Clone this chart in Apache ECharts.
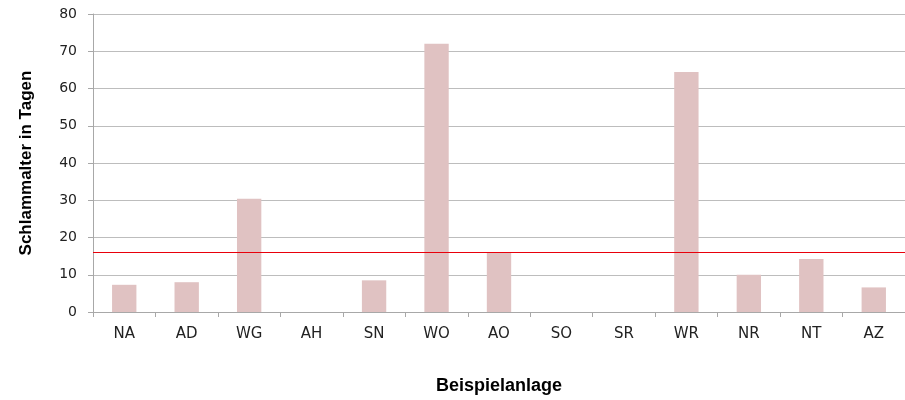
<!DOCTYPE html>
<html>
<head>
<meta charset="utf-8">
<script src="https://cdn.jsdelivr.net/npm/echarts@6/dist/echarts.min.js"></script>
<style>
  html, body { margin: 0; padding: 0; background: #fff; }
  #chart { width: 905px; height: 400px; }
</style>
</head>
<body>
<div id="chart"></div>
<script>
// Sludge age per example plant, with the 16-day reference level
const plants = ['NA', 'AD', 'WG', 'AH', 'SN', 'WO', 'AO', 'SO', 'SR', 'WR', 'NR', 'NT', 'AZ'];
const sludgeAge = [7.3, 8.0, 30.4, null, 8.5, 72.0, 16.1, null, null, 64.4, 10.0, 14.2, 6.6];
const referenceAge = 16;
const yTicks = { min: 0, max: 80, interval: 10 };

const chart = echarts.init(document.getElementById('chart'), null, { renderer: 'canvas' });

chart.setOption({
  animation: false,
  backgroundColor: '#ffffff',
  grid: { left: 93, right: 0, top: 14, bottom: 83, containLabel: false },
  xAxis: {
    type: 'category',
    data: plants,
    name: 'Beispielanlage',
    nameLocation: 'middle',
    nameGap: 65,
    nameTextStyle: { fontFamily: 'Liberation Sans', fontWeight: 'bold', fontSize: 18, color: '#000' },
    axisLine: { lineStyle: { color: '#a8a8a8', width: 1 } },
    axisTick: { show: true, alignWithLabel: false, length: 5, lineStyle: { color: '#a8a8a8' } },
    axisLabel: { margin: 15, fontFamily: 'DejaVu Sans', fontSize: 15, color: '#222' },
    splitLine: { show: false }
  },
  yAxis: {
    type: 'value',
    min: yTicks.min,
    max: yTicks.max,
    interval: yTicks.interval,
    name: 'Schlammalter in Tagen',
    nameLocation: 'middle',
    nameGap: 58,
    nameTextStyle: { fontFamily: 'Liberation Sans', fontWeight: 'bold', fontSize: 17, color: '#000' },
    axisLine: { show: true, lineStyle: { color: '#a8a8a8', width: 1 } },
    axisTick: { show: true, length: 5, lineStyle: { color: '#a8a8a8' } },
    axisLabel: { margin: 16, fontFamily: 'DejaVu Sans', fontSize: 14, color: '#222' },
    splitLine: { show: true, lineStyle: { color: '#bdbdbd', width: 1 } }
  },
  series: [
    {
      type: 'bar',
      data: sludgeAge,
      barWidth: '39%',
      itemStyle: { color: '#e0c2c2' },
      markLine: {
        silent: true,
        symbol: 'none',
        label: { show: false },
        lineStyle: { color: '#e8000b', width: 1.2, type: 'solid' },
        data: [{ yAxis: referenceAge }]
      }
    }
  ]
});
</script>
</body>
</html>
